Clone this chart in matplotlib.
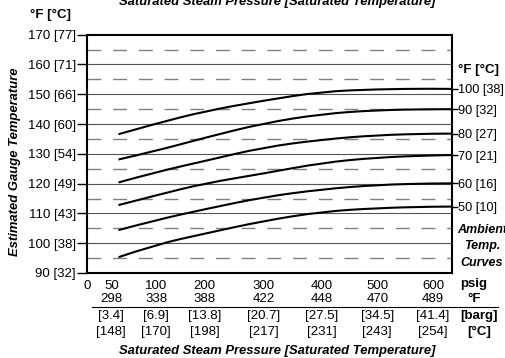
import numpy as np
import matplotlib.pyplot as plt
from matplotlib.path import Path
from matplotlib.patches import PathPatch
from matplotlib.transforms import blended_transform_factory

plt.rcParams['font.family'] = ['Liberation Sans', 'DejaVu Sans']
plt.rcParams['font.size'] = 9

# pressure axis (psig) and the matching saturated temperature rows
psig = [0, 50, 100, 200, 300, 400, 500, 600]
sat_f = ['', '298', '338', '388', '422', '448', '470', '489']
barg = ['', '[3.4]', '[6.9]', '[13.8]', '[20.7]', '[27.5]', '[34.5]', '[41.4]']
sat_c = ['', '[148]', '[170]', '[198]', '[217]', '[231]', '[243]', '[254]']

# gauge temperature axis
gauge_f = [90, 100, 110, 120, 130, 140, 150, 160, 170]
gauge_c = [32, 38, 43, 49, 54, 60, 66, 71, 77]

# ambient temperature curves, sampled at curve_psig
amb_f = [100, 90, 80, 70, 60, 50]
amb_c = [38, 32, 27, 21, 16, 10]
curve_psig = [58, 100, 200, 300, 400, 500, 600, 635]
curves = [
    [136.6, 140.2, 144.3, 147.9, 150.9, 151.7, 151.9, 151.8],
    [128.1, 131.0, 135.4, 140.3, 143.4, 144.7, 145.0, 145.0],
    [120.4, 123.9, 127.6, 132.2, 134.8, 136.3, 136.8, 136.8],
    [112.8, 116.1, 120.1, 123.4, 127.0, 128.8, 129.5, 129.6],
    [104.4, 107.8, 111.4, 115.5, 118.1, 119.6, 120.1, 120.1],
    [95.3, 99.6, 103.2, 107.5, 110.6, 111.8, 112.3, 112.3],
]

# the printed pressure axis is not linear: position of each tick along it
scale_psig = psig + [635]
scale_pos = [0, 24.3, 69.3, 117.6, 176.6, 235.0, 290.3, 346.0, 365.0]


def fwd(x):
    return np.interp(x, scale_psig, scale_pos)


def inv(x):
    return np.interp(x, scale_pos, scale_psig)


def smooth_path(xs, ys):
    # quadratic b-spline through the sampled points (drawn as bezier segments)
    pts = list(zip(xs, ys))
    verts = [pts[0]]
    codes = [Path.MOVETO]
    for i in range(1, len(pts) - 1):
        end = pts[i + 1] if i == len(pts) - 2 else (
            (pts[i][0] + pts[i + 1][0]) / 2, (pts[i][1] + pts[i + 1][1]) / 2)
        verts += [pts[i], end]
        codes += [Path.CURVE3, Path.CURVE3]
    return Path(verts, codes)


W, H = 505, 358
fig = plt.figure(figsize=(W / 100, H / 100), dpi=100)
ax = fig.add_axes([87 / W, 1 - 273 / H, 365 / W, (273 - 34.7) / H])
ax.set_xscale('function', functions=(fwd, inv))
ax.set_xlim(0, 635)
ax.set_ylim(90, 170)

for t in range(100, 170, 10):
    ax.axhline(t, color='#555555', lw=0.8, zorder=1)
for t in range(95, 170, 10):
    ax.axhline(t, color='#808080', lw=1.0, dashes=(10, 8.5), zorder=1)

for c in curves:
    ax.add_patch(PathPatch(smooth_path(curve_psig, c), fill=False,
                           edgecolor='black', lw=1.5, zorder=3))

for s in ax.spines.values():
    s.set_linewidth(1.5)

ax.set_yticks(gauge_f)
ax.set_yticklabels([f'{f} [{c}]' for f, c in zip(gauge_f, gauge_c)])
ax.tick_params(axis='y', length=7, width=1.0, pad=1, labelsize=9.5)
ax.set_xticks(psig)
ax.set_xticklabels([str(p) for p in psig])
ax.tick_params(axis='x', length=0, pad=5, labelsize=9.5)

ax2 = ax.twinx()
ax2.set_ylim(90, 170)
ends = [c[-1] for c in curves]
ax2.set_yticks(ends)
ax2.set_yticklabels([f'{f} [{c}]' for f, c in zip(amb_f, amb_c)])
ax2.tick_params(axis='y', length=4, width=1.0, pad=0.5, labelsize=9.2)
for s in ax2.spines.values():
    s.set_visible(False)

# lower rows of the pressure axis
tr = blended_transform_factory(ax.transData, fig.transFigure)
for p, a, b, c in zip(psig, sat_f, barg, sat_c):
    ax.text(p, 1 - 299 / H, a, transform=tr, ha='center', va='center', fontsize=9.5)
    ax.text(p, 1 - 316 / H, b, transform=tr, ha='center', va='center', fontsize=9.5)
    ax.text(p, 1 - 332 / H, c, transform=tr, ha='center', va='center', fontsize=9.5)
fig.add_artist(plt.Line2D([92 / W, 498 / W], [1 - 307 / H] * 2, color='black', lw=0.8))

bold = dict(fontweight='bold', fontsize=9.5, ha='center', va='center')
fig.text(474 / W, 1 - 284 / H, 'psig', **bold)
fig.text(474 / W, 1 - 299 / H, '°F', **bold)
fig.text(479 / W, 1 - 316 / H, '[barg]', **bold)
fig.text(479 / W, 1 - 332 / H, '[°C]', **bold)
fig.text(51 / W, 1 - 15 / H, '°F [°C]', **bold)
fig.text(479 / W, 1 - 70 / H, '°F [°C]', **bold)

bi = dict(fontweight='bold', fontstyle='italic', fontsize=9, ha='center', va='center')
fig.text(482 / W, 1 - 230 / H, 'Ambient', **bi)
fig.text(482 / W, 1 - 246 / H, 'Temp.', **bi)
fig.text(482 / W, 1 - 263 / H, 'Curves', **bi)
title = 'Saturated Steam Pressure [Saturated Temperature]'
fig.text(277 / W, 1 - 351 / H, title, **{**bi, 'fontsize': 9.4})
fig.text(277 / W, 1 - 2 / H, title, **{**bi, 'fontsize': 9.4})
fig.text(15 / W, 1 - 162 / H, 'Estimated Gauge Temperature', rotation=90,
         **{**bi, 'fontsize': 9.4})

fig.savefig('out.png', dpi=100)
